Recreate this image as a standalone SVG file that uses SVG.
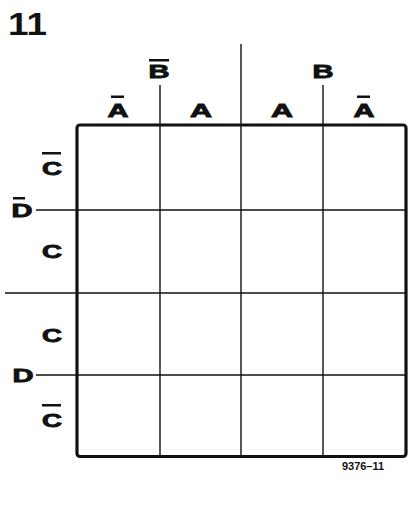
<svg xmlns="http://www.w3.org/2000/svg" width="419" height="511" viewBox="0 0 419 511">
<style>
.lbl{font-family:"Liberation Sans",Arial,sans-serif;font-weight:bold;font-size:19px;fill:#111;stroke:#111;stroke-width:0.9;text-anchor:middle}
.bar{fill:#111}
.ln{stroke:#111;stroke-width:1.4;fill:none}
.frame{stroke:#111;stroke-width:3.2;fill:none}
</style>
<rect width="419" height="511" fill="#fff"/>
<text x="8" y="35" font-family="'Liberation Sans',Arial,sans-serif" font-weight="bold" font-size="32" fill="#111" textLength="39" lengthAdjust="spacingAndGlyphs">11</text>
<g id="connectors">
<line class="ln" x1="160" y1="85" x2="160" y2="457"/>
<line class="ln" x1="241" y1="44" x2="241" y2="457"/>
<line class="ln" x1="323" y1="85" x2="323" y2="457"/>
<line class="ln" x1="36" y1="210" x2="406" y2="210"/>
<line class="ln" x1="5" y1="293" x2="406" y2="293"/>
<line class="ln" x1="36" y1="375" x2="406" y2="375"/>
</g>
<g id="frame"><rect class="frame" x="77" y="125" width="329" height="331.5" rx="3"/></g>
<g id="label-notA-1"><rect class="bar" x="111" y="95.5" width="13" height="2.5"/><text class="lbl" x="118" y="117" textLength="21" lengthAdjust="spacingAndGlyphs">A</text></g>
<g id="label-A-1"><text class="lbl" x="201" y="117" textLength="22" lengthAdjust="spacingAndGlyphs">A</text></g>
<g id="label-A-2"><text class="lbl" x="282" y="117" textLength="22" lengthAdjust="spacingAndGlyphs">A</text></g>
<g id="label-notA-2"><rect class="bar" x="357" y="95.5" width="13" height="2.5"/><text class="lbl" x="364" y="117" textLength="21" lengthAdjust="spacingAndGlyphs">A</text></g>
<g id="label-notB"><rect class="bar" x="149" y="59" width="20" height="2.5"/><text class="lbl" x="159" y="78" textLength="21" lengthAdjust="spacingAndGlyphs">B</text></g>
<g id="label-B"><text class="lbl" x="323" y="78" textLength="21" lengthAdjust="spacingAndGlyphs">B</text></g>
<g id="label-notC-1"><rect class="bar" x="42" y="152" width="19" height="2.5"/><text class="lbl" x="52" y="175" textLength="20" lengthAdjust="spacingAndGlyphs">C</text></g>
<g id="label-C-1"><text class="lbl" x="52" y="258" textLength="20" lengthAdjust="spacingAndGlyphs">C</text></g>
<g id="label-notD"><rect class="bar" x="13" y="197" width="12" height="2.5"/><text class="lbl" x="22" y="217" textLength="21" lengthAdjust="spacingAndGlyphs">D</text></g>
<g id="label-C-2"><text class="lbl" x="52" y="342" textLength="20" lengthAdjust="spacingAndGlyphs">C</text></g>
<g id="label-D"><text class="lbl" x="23" y="382" textLength="21" lengthAdjust="spacingAndGlyphs">D</text></g>
<g id="label-notC-2"><rect class="bar" x="42" y="404" width="19" height="2.5"/><text class="lbl" x="52" y="427" textLength="20" lengthAdjust="spacingAndGlyphs">C</text></g>
<g id="code"><text x="363" y="470" font-family="'Liberation Sans',Arial,sans-serif" font-weight="bold" font-size="11" fill="#111" text-anchor="middle">9376–11</text></g>
</svg>
